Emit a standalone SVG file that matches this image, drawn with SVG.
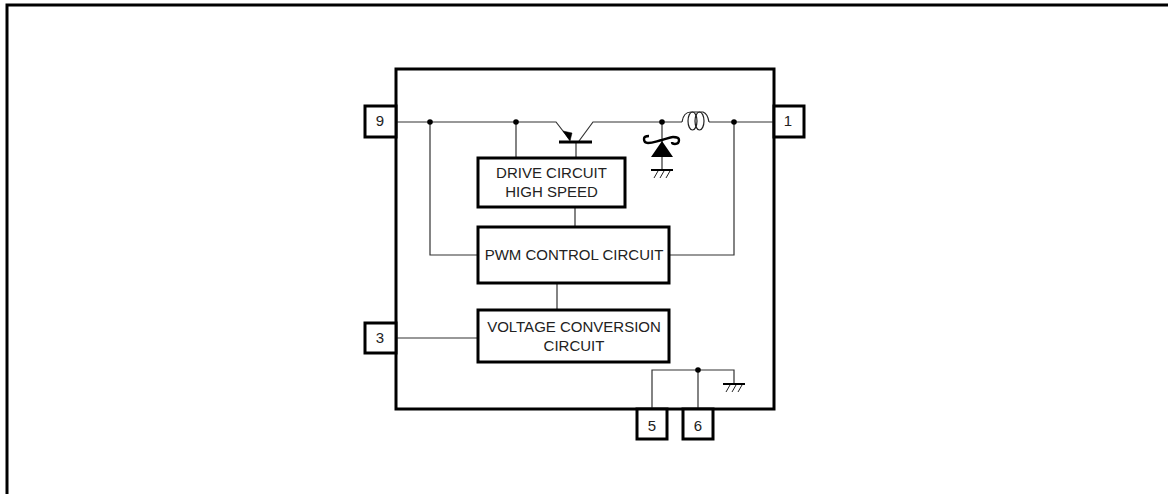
<svg xmlns="http://www.w3.org/2000/svg" width="1168" height="494" viewBox="0 0 1168 494">
<style>
.b{fill:#fff;stroke:#000;stroke-width:3}
.w{fill:none;stroke:#333;stroke-width:1.2}
.g{fill:none;stroke:#000;stroke-width:2}
.h{fill:none;stroke:#222;stroke-width:1}
text{font-family:"Liberation Sans",Arial,sans-serif;font-size:15px;fill:#222;text-anchor:middle}
</style>
<defs>
<g id="gnd"><path class="g" d="M-11 0H11"/><path class="h" d="M-8 8L-4 1M-2 8L2 1M4 8L8 1"/></g>
</defs>
<rect width="1168" height="494" fill="#fff"/>
<path d="M7 494V5H1168" fill="none" stroke="#000" stroke-width="3"/>
<g id="ic"><rect x="396" y="69" width="378" height="340" fill="#fff" stroke="#000" stroke-width="3"/></g>
<g id="connectors">
<path class="w" d="M396 122H556L570 140M579 141L593 122H682M709 122H774"/>
<path class="w" d="M430 122V255H478M516 122V158M576 142V158M575 208V227M734 122V255H670M557 283V310M396 338H478"/>
<path class="w" d="M662 122V170M652 409V370H734V384M698 370V409"/>
<path d="M563 131L570 141L572 133Z" fill="#000" stroke="#000" stroke-width="0.5"/>
<path d="M559 142H592" fill="none" stroke="#000" stroke-width="3"/>
<path d="M682 122C683 115 686 112 691 112C696 112 701 112 703 112C706 113 708 116 709 122" fill="none" stroke="#222" stroke-width="1.2"/>
<ellipse cx="692.5" cy="121" rx="4.5" ry="9" fill="none" stroke="#222" stroke-width="1.2"/>
<ellipse cx="699.5" cy="121" rx="4.5" ry="9" fill="none" stroke="#222" stroke-width="1.2"/>
<path d="M651 157H673L662 141Z" fill="#000"/>
<path d="M649 136C646 136 644 137 644 139C644 142 646 143 648 143C653 143 657 141 662 140C666 139 670 137 673 137C677 137 679 138 679 140C679 143 677 144 675 144C673 144 672 143 672 142" fill="none" stroke="#000" stroke-width="2.4"/>
<use href="#gnd" x="662" y="170"/>
<use href="#gnd" x="734" y="384"/>
<circle cx="430" cy="122" r="2.8"/><circle cx="516" cy="122" r="2.8"/><circle cx="662" cy="122" r="2.8"/><circle cx="734" cy="122" r="2.8"/>
<circle cx="698" cy="370" r="2.8"/>
</g>
<g id="drive"><rect class="b" x="478" y="158" width="147" height="49"/><text x="551.5" y="178">DRIVE CIRCUIT</text><text x="551.5" y="197">HIGH SPEED</text></g>
<g id="pwm"><rect class="b" x="478" y="227" width="191" height="56"/><text x="574" y="260">PWM CONTROL CIRCUIT</text></g>
<g id="vcc"><rect class="b" x="478" y="310" width="191" height="52"/><text x="574" y="332">VOLTAGE CONVERSION</text><text x="574" y="351">CIRCUIT</text></g>
<g id="pin9"><rect class="b" x="365" y="106" width="31" height="31"/><text x="380" y="126">9</text></g>
<g id="pin1"><rect class="b" x="774" y="106" width="30" height="31"/><text x="788" y="126">1</text></g>
<g id="pin3"><rect class="b" x="365" y="323" width="31" height="30"/><text x="380" y="343">3</text></g>
<g id="pin5"><rect class="b" x="637" y="409" width="30" height="30"/><text x="652" y="431">5</text></g>
<g id="pin6"><rect class="b" x="683" y="409" width="30" height="30"/><text x="698" y="431">6</text></g>
</svg>
